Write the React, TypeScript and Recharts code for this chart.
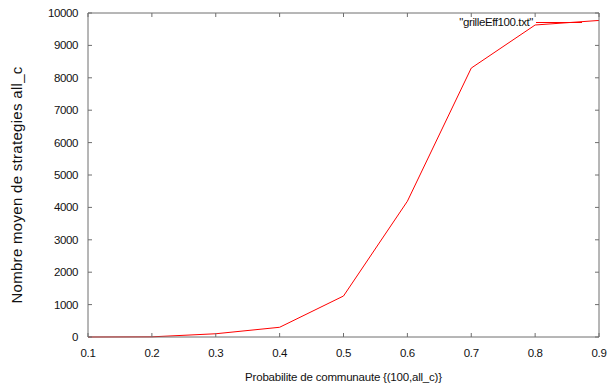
import { Line, LineChart, XAxis, YAxis } from "recharts";

const probs = [0.1, 0.2, 0.3, 0.4, 0.5, 0.6, 0.7, 0.8, 0.9];
const allC = [0, 5, 100, 300, 1265, 4190, 8300, 9630, 9770];
const xTicks = [0.1, 0.2, 0.3, 0.4, 0.5, 0.6, 0.7, 0.8, 0.9];
const yTicks = [0, 1000, 2000, 3000, 4000, 5000, 6000, 7000, 8000, 9000, 10000];
const seriesName = '"grilleEff100.txt"';

const rows = probs.map((p, i) => ({ p, v: allC[i] }));
const font = "'Liberation Sans', Arial, sans-serif";
const frame = "#6e6e6e";
const tickLen = 4;

const BottomTick = ({ x, y, payload }: any) => (
  <g>
    <line x1={x} y1={y} x2={x} y2={y - tickLen} stroke={frame} />
    <text x={x} y={y + 20} textAnchor="middle" fontSize={11.5} letterSpacing={-0.4} fontFamily={font} fill="#111">{payload.value}</text>
  </g>
);
const TopTick = ({ x, y }: any) => <line x1={x} y1={y} x2={x} y2={y + tickLen} stroke={frame} />;
const LeftTick = ({ x, y, payload }: any) => (
  <g>
    <line x1={x} y1={y} x2={x + tickLen} y2={y} stroke={frame} />
    <text x={x - 10} y={y + 4} textAnchor="end" fontSize={11.5} letterSpacing={-0.4} fontFamily={font} fill="#111">{payload.value}</text>
  </g>
);
const RightTick = ({ x, y }: any) => <line x1={x} y1={y} x2={x - tickLen} y2={y} stroke={frame} />;

const YLabel = ({ viewBox }: any) => {
  const cx = 16;
  const cy = viewBox.y + viewBox.height / 2 + 10;
  return (
    <text x={cx} y={cy} transform={`rotate(-90, ${cx}, ${cy})`} textAnchor="middle" dominantBaseline="central" fontSize={15} letterSpacing={0.3} fontFamily={font} fill="#111">
      Nombre moyen de strategies all_c
    </text>
  );
};

export default function App() {
  return (
    <div style={{ position: "absolute", left: 0, top: 0, width: 609, height: 389, background: "#fff" }}>
      <LineChart width={609} height={389} data={rows} margin={{ top: 12, right: 9, left: 0, bottom: 0 }}>
        <XAxis dataKey="p" type="number" domain={[0.1, 0.9]} ticks={xTicks} tickSize={0} tickMargin={0} tickLine={false} stroke={frame} height={52} tick={<BottomTick />} label={{ value: "Probabilite de communaute {(100,all_c)}", position: "insideBottom", offset: 8, fontSize: 11.5, letterSpacing: -0.2, fontFamily: font, fill: "#111" }} />
        <XAxis xAxisId="top" orientation="top" dataKey="p" type="number" domain={[0.1, 0.9]} ticks={xTicks} tickSize={0} tickMargin={0} tickLine={false} stroke={frame} height={1} tick={<TopTick />} />
        <YAxis type="number" domain={[0, 10000]} ticks={yTicks} tickSize={0} tickMargin={0} tickLine={false} stroke={frame} width={88} tick={<LeftTick />} label={<YLabel />} />
        <YAxis yAxisId="right" orientation="right" type="number" domain={[0, 10000]} ticks={yTicks} tickSize={0} tickMargin={0} tickLine={false} stroke={frame} width={1} tick={<RightTick />} />
        <Line xAxisId="top" yAxisId="right" dataKey="v" stroke="none" dot={false} activeDot={false} legendType="none" isAnimationActive={false} />
        <Line dataKey="v" name={seriesName} stroke="#ff0000" strokeWidth={1} dot={false} isAnimationActive={false} />
      </LineChart>
      <div style={{ position: "absolute", top: 16, left: 420, width: 162, display: "flex", alignItems: "center", justifyContent: "flex-end", fontFamily: font, fontSize: 11.5, letterSpacing: -0.4, color: "#111" }}>
        <span>{seriesName}</span>
        <span style={{ display: "inline-block", width: 46, height: 1, background: "#ff0000", marginLeft: 3 }} />
      </div>
    </div>
  );
}
